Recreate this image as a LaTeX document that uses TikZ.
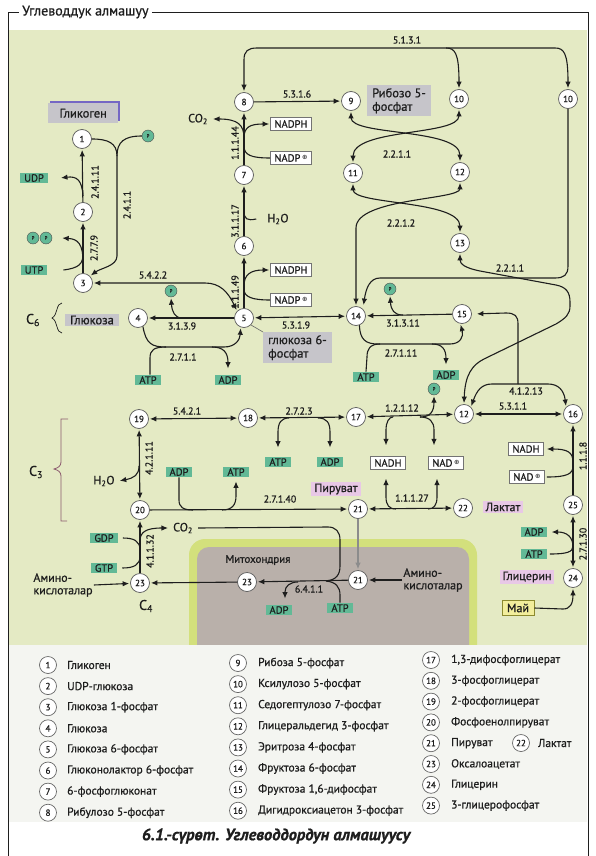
\documentclass[tikz,border=0pt]{standalone}
\usepackage{fontspec}
\setmainfont{PT Sans}[FakeBold=0.8]
\newfontfamily\symf{DejaVu Sans}
\usetikzlibrary{arrows.meta}
\definecolor{bggreen}{HTML}{E4EAC4}
\definecolor{cofgreen}{HTML}{62B996}
\definecolor{boxgray}{HTML}{C6C5CA}
\definecolor{pinkbox}{HTML}{E8C8E6}
\definecolor{mitoedge}{HTML}{D3E07C}
\definecolor{mitoin}{HTML}{B9B0AA}
\definecolor{maybox}{HTML}{F2EE9C}
\definecolor{mayedge}{HTML}{8C8A2E}
\definecolor{ink}{HTML}{1E1E1E}
\definecolor{bracec}{HTML}{8B5A6E}
\definecolor{purpedge}{HTML}{7567C4}
\definecolor{legbg}{HTML}{F4F5F1}
\newcommand\oplusmark{\,\raisebox{2.4pt}{\symf\fontsize{6.5}{6.5}\selectfont ⊕}}
\tikzset{
  mol/.style={circle, draw=black!65, fill=white, line width=0.7pt, minimum size=19pt, inner sep=0pt, font=\fontsize{9}{9}\selectfont},
  legmol/.style={circle, draw=black!60, fill=white, line width=0.7pt, minimum size=17pt, inner sep=0pt, font=\fontsize{9}{9}\selectfont},
  cof/.style={fill=cofgreen, inner xsep=4pt, inner ysep=1.5pt, font=\fontsize{10.5}{10.5}\selectfont},
  wbox/.style={draw=black!55, fill=white, line width=0.6pt, inner xsep=4pt, inner ysep=2.5pt, font=\fontsize{10.5}{10.5}\selectfont},
  gbox/.style={fill=boxgray, inner xsep=5pt, inner ysep=3pt, align=left, font=\fontsize{12.5}{13.5}\selectfont},
  pbox/.style={fill=pinkbox, inner xsep=3pt, inner ysep=1.5pt, font=\fontsize{12}{12}\selectfont},
  ecl/.style={inner sep=1pt, font=\fontsize{10}{10}\selectfont},
  txt/.style={inner sep=1pt, font=\fontsize{12}{12.5}\selectfont},
  pho/.style={circle, draw=black!70, fill=cofgreen, minimum size=12pt, inner sep=0pt, font=\fontsize{5}{5}\selectfont},
  ln/.style={draw=ink, line width=1.1pt},
  ar/.style={ln, ->, shorten >=1pt},
  arr/.style={ln, <->, shorten >=1pt, shorten <=1pt},
  leg/.style={anchor=west, inner sep=0pt, font=\fontsize{11.5}{12}\selectfont},
}
\begin{document}
\begin{tikzpicture}[x=1pt,y=-1pt, >={Latex[length=6.5pt,width=5.5pt]}, every node/.style={text=ink}]
\useasboundingbox (0,0) rectangle (595,856);
% page and panels
\fill[white] (0,0) rectangle (595,856);
\fill[bggreen] (9,30) rectangle (587,645);
\fill[mitoedge, rounded corners=16pt] (189,539) rectangle (477,670);
\fill[mitoin, rounded corners=12pt] (197,547) rectangle (469,670);
\fill[legbg] (9,645) rectangle (587,822);

% frame and title
\node[inner sep=3pt, anchor=west, font=\fontsize{14}{14}\selectfont] (title) at (19,12) {Углеводдук алмашуу};
\draw[ink, line width=0.9pt] (8,856) -- (8,12) -- (title.west);
\draw[ink, line width=0.9pt] (title.east) -- (588,12) -- (588,856);

% metabolites
\node[mol] (m1) at (82,139) {1};
\node[mol] (m2) at (83,212) {2};
\node[mol] (m3) at (83,283) {3};
\node[mol] (m4) at (138,318) {4};
\node[mol] (m5) at (244,318) {5};
\node[mol] (m6) at (244,246) {6};
\node[mol] (m7) at (244,175) {7};
\node[mol] (m8) at (244,102) {8};
\node[mol] (m9) at (351,101) {9};
\node[mol] (m10a) at (459,99) {10};
\node[mol] (m10b) at (568,99) {10};
\node[mol] (m11) at (353,173) {11};
\node[mol] (m12a) at (460,172) {12};
\node[mol] (m13) at (460,243) {13};
\node[mol] (m14) at (356,316) {14};
\node[mol] (m15) at (462,314) {15};
\node[mol] (m12b) at (464,414) {12};
\node[mol] (m16) at (573,414) {16};
\node[mol] (m17) at (356,417) {17};
\node[mol] (m18) at (248,418) {18};
\node[mol] (m19) at (139,419) {19};
\node[mol] (m20) at (140,510) {20};
\node[mol] (m21a) at (358,509) {21};
\node[mol] (m22) at (463,508) {22};
\node[mol] (m25) at (573,505) {25};
\node[mol] (m24) at (573,578) {24};
\node[mol] (m23a) at (140,583) {23};
\node[mol] (m23b) at (247,582) {23};
\node[mol] (m21b) at (358,580) {21};

% named boxes
\fill[purpedge] (49.8,101.2) rectangle (119.8,121);
\node[gbox, anchor=north west, minimum width=70pt, minimum height=20pt, align=center] (glycogen) at (48,103) {Гликоген};
\node[gbox, anchor=north west] (ribo) at (367,85) {Рибозо 5-\\фосфат};
\node[gbox, anchor=north west] (g6p) at (263,332) {глюкоза 6-\\фосфат};
\node[gbox, inner ysep=1.5pt] (gluc) at (92,320) {Глюкоза};
\node[pbox] (pyr) at (336,489) {Пируват};
\node[pbox] (lac) at (503,507) {Лактат};
\node[pbox] (glyc) at (527,577) {Глицерин};
\node[fill=maybox, draw=mayedge, line width=1pt, inner xsep=5pt, inner ysep=3pt, font=\fontsize{12}{12}\selectfont] (may) at (518,608) {Май};

% cofactors
\node[cof] (udp) at (34,178) {UDP};
\node[cof] (utp) at (34,270) {UTP};
\node[pho] (pp1) at (33,238) {P};
\node[pho] (pp2) at (46,238) {P};
\node[pho] (p1) at (148,136) {P};
\node[pho] (p2) at (171,291) {P};
\node[pho] (p3) at (390,289) {P};
\node[pho] (p4) at (434,389) {P};
\node[cof] (atp1) at (148,380) {ATP};
\node[cof] (adp1) at (228,380) {ADP};
\node[cof] (atp2) at (366,377) {ATP};
\node[cof] (adp2) at (446,375) {ADP};
\node[cof] (atp3) at (278,462) {ATP};
\node[cof] (adp3) at (330,462) {ADP};
\node[cof] (adp4) at (179,472) {ADP};
\node[cof] (atp4) at (236,472) {ATP};
\node[cof] (gdp) at (104,538) {GDP};
\node[cof] (gtp) at (104,568) {GTP};
\node[cof] (adp5) at (534,532) {ADP};
\node[cof] (atp5) at (534,554) {ATP};
\node[cof] (adp6) at (279,610) {ADP};
\node[cof] (atp6) at (340,608) {ATP};
\node[wbox] (nadph1) at (291,124) {NADPH};
\node[wbox] (nadp1) at (291,158) {NADP\oplusmark};
\node[wbox] (nadph2) at (291,270) {NADPH};
\node[wbox] (nadp2) at (291,300) {NADP\oplusmark};
\node[wbox] (nadh1) at (388,463) {NADH};
\node[wbox] (nad1) at (446,463) {NAD\oplusmark};
\node[wbox] (nadh2) at (526,449) {NADH};
\node[wbox] (nad2) at (527,477) {NAD\oplusmark};

% free text
\node[txt] (co2a) at (198,119) {CO\textsubscript{2}};
\node[txt] (h2oa) at (278,219) {H\textsubscript{2}O};
\node[txt] (h2ob) at (104,481) {H\textsubscript{2}O};
\node[txt] (co2b) at (183,528) {CO\textsubscript{2}};
\node[txt, align=left] (amin1) at (63,585) {Амино-\\кислоталар};
\node[txt, align=left] (amin2) at (433,580) {Амино-\\кислоталар};
\node[txt, font=\fontsize{11}{11}\selectfont] (mito) at (258,560) {Митохондрия};
\node[font=\fontsize{14}{14}\selectfont] (c6) at (33,320) {C\textsubscript{6}};
\node[font=\fontsize{14}{14}\selectfont] (c3) at (36,472) {C\textsubscript{3}};
\node[font=\fontsize{14}{14}\selectfont] (c4) at (146,606) {C\textsubscript{4}};

% braces
\draw[ink, line width=0.7pt] (62,303) .. controls (56,303) and (58,315) .. (52,318) .. controls (58,321) and (56,333) .. (62,333);
\draw[bracec, line width=0.8pt] (68,419) -- (61,419) -- (61,462) .. controls (61,466) and (58,468) .. (54,469) .. controls (58,470) and (61,472) .. (61,476) -- (61,521) -- (67,521);

% glycogen / UDP-glucose
\draw[ar] (m2) -- (m1);
\draw[ar] (83,196) .. controls (82,180) and (77,176) .. ([xshift=12pt]udp.east);
\draw[ar] (m3) -- (m2);
\draw[ar] (83,262) .. controls (83,244) and (78,239) .. ([xshift=9pt]pp2.east);
\draw[ln] ([xshift=16pt]utp.east) .. controls (79,268) and (83,264) .. (83,254);
\draw[ar] (m1.east) .. controls (108,139) and (117,143) .. (117,156) -- (117,256) .. controls (117,266) and (101,268) .. (m3.north east);
\draw[ln] (p1.west) .. controls (124,136) and (117,142) .. (117,156);
\draw[arr] (m3.east) -- (205,283) .. controls (220,283) and (228,292) .. (m5.north west);

% glucose / glucose 6-phosphate
\draw[ar] (m5) -- (m4);
\draw[ar] (182,318) .. controls (175,318) and (172,312) .. (p2.south);
\draw[ar] (m4.-60) .. controls (146,344) and (152,347) .. (166,347) -- (224,347) .. controls (235,347) and (240,340) .. (m5.-110);
\draw[ln] ([xshift=2pt]atp1.north) -- (150,358) .. controls (150,350) and (154,347) .. (166,347);
\draw[ar] (212,347) .. controls (223,347) and (228,352) .. ([yshift=5pt]adp1.north);
\draw[black!60, line width=0.6pt] (m5.-45) -- (g6p.north west);

% oxidative branch
\draw[ar] (m5) -- (m6);
\draw[ar] (244,286) .. controls (244,275) and (250,270) .. (nadph2.west);
\draw[ln] (nadp2.west) .. controls (252,300) and (244,297) .. (244,289);
\draw[ar] (m6) -- (m7);
\draw[ln] ([xshift=-10pt]h2oa.west) .. controls (247,221) and (244,219) .. (244,211);
\draw[ar] (m7) -- (m8);
\draw[ar] (244,138) .. controls (244,125) and (238,119) .. ([xshift=3pt]co2a.east);
\draw[ar] (244,138) .. controls (244,127) and (250,124) .. (nadph1.west);
\draw[ln] (nadp1.west) .. controls (251,158) and (244,155) .. (244,146);
\draw[ar] (m8) -- (m9);

% non-oxidative branch
\draw[arr] (m8.north) -- (244,60) .. controls (244,51) and (248,48) .. (257,48) -- (446,48) .. controls (455,48) and (459,53) .. (m10a.north);
\draw[ar] (446,48) -- (555,48) .. controls (564,48) and (568,53) .. (m10b.north);
\draw[arr] (m9.south) .. controls (351,136) and (460,128) .. (m12a.north);
\draw[arr] (m10a.south) .. controls (459,136) and (353,128) .. (m11.north);
\draw[arr] (m11.south) .. controls (353,205) and (460,200) .. (m13.north);
\draw[arr] (m12a.south) .. controls (460,200) and (356,198) .. (356,228) -- (m14.north);
\draw[ar, shorten >=4pt] (m10b.south) -- (568,266) .. controls (568,275) and (564,278) .. (555,278) -- (380,278) .. controls (370,278) and (366,288) .. (m14.north east);
\draw[arr] (m13.south) .. controls (460,264) and (465,268) .. (480,271) -- (556,285) .. controls (566,287) and (570,292) .. (570,302) -- (570,306) .. controls (570,314) and (566,318) .. (556,324) -- (484,359) .. controls (472,365) and (465,375) .. (m12b.north);

% fructose phosphates
\draw[arr] (m5) -- (m14);
\draw[ar] (m15) -- (m14);
\draw[ar] (403,315) .. controls (394,315) and (391,310) .. (p3.south);
\draw[ar] (m14.-70) .. controls (360,340) and (366,344) .. (378,344) -- (450,344) .. controls (460,344) and (464,337) .. (m15.-100);
\draw[ln] (atp2.north) -- (367,357) .. controls (367,349) and (370,344) .. (380,344);
\draw[ar] (432,344) .. controls (442,344) and (446,349) .. ([yshift=4pt]adp2.north);

% aldolase and triose phosphates
\coordinate (ald) at (518,384);
\draw[ar, shorten >=5pt] (ald) -- (518,324) .. controls (518,316) and (515,313) .. (506,313) -- (m15.east);
\draw[ar] (ald) -- (492,384) .. controls (482,384) and (477,390) .. (m12b.north east);
\draw[ar] (ald) -- (548,384) .. controls (558,384) and (564,390) .. (m16.north west);
\draw[arr] (m12b) -- (m16);
\draw[ar] (m25) -- (m16);
\draw[ar] (573,462) .. controls (573,452) and (567,449) .. ([xshift=2pt]nadh2.east);
\draw[ln] ([xshift=2pt]nad2.east) .. controls (567,477) and (573,474) .. (573,466);
\draw[arr] (m24) -- (m25);
\draw[ar] (573,547) .. controls (573,537) and (567,532) .. ([xshift=3pt]adp5.east);
\draw[ln] ([xshift=3pt]atp5.east) .. controls (567,554) and (573,552) .. (573,546);
\draw[ar] (may.east) -- (563,609) .. controls (570,609) and (573,604) .. (m24.south);

% lower glycolysis
\draw[arr] (m19) -- (m18);
\draw[arr] (m18) -- (m17);
\draw[ar] (289,418) .. controls (281,418) and (278,423) .. (278,432) -- ([yshift=8pt]atp3.north);
\draw[ar] (318,418) .. controls (327,418) and (330,423) .. (330,432) -- ([yshift=8pt]adp3.north);
\draw[arr] (m12b) -- (m17);
\draw[ar] (393,417) .. controls (389,417) and (386,422) .. (386,430) -- ([xshift=-2pt,yshift=10pt]nadh1.north);
\draw[ar] (420,417) .. controls (430,417) and (434,412) .. (p4.south);
\draw[ar] (420,417) .. controls (430,417) and (434,422) .. (434,430) -- ([xshift=-12pt,yshift=10pt]nad1.north);
\draw[arr] (m19) -- (m20);
\draw[ar] (139,466) .. controls (139,475) and (134,478) .. ([xshift=3pt]h2ob.east);
\draw[ar] (m20) -- (m21a);
\draw[ln] (adp4.south) -- (179,500) .. controls (179,507) and (183,510) .. (193,510);
\draw[ar] (222,510) .. controls (232,510) and (236,505) .. (236,496) -- ([yshift=-3pt]atp4.south);
\draw[arr] (m21a) -- (m22);
\draw[ar] (396,509) .. controls (389,509) and (386,505) .. (386,497) -- ([xshift=-2pt,yshift=-8pt]nadh1.south);
\draw[ar] (428,509) .. controls (434,509) and (437,505) .. (437,497) -- ([xshift=-9pt,yshift=-8pt]nad1.south);
\draw[ar, draw=black!45] (m21a) -- (m21b);

% oxaloacetate
\draw[ar] (m23a) -- (m20);
\draw[ar] (140,541) .. controls (140,532) and (146,528) .. ([xshift=-3pt]co2b.west);
\draw[ln] ([xshift=5pt]gdp.east) .. controls (134,538) and (140,541) .. (140,550);
\draw[ln] ([xshift=5pt]gtp.east) .. controls (134,568) and (140,565) .. (140,556);
\draw[ln] ([xshift=4pt]co2b.east) -- (328,527) .. controls (336,527) and (340,532) .. (340,540) -- (340,566) .. controls (340,575) and (336,580) .. (326,581);
\draw[ln] (atp6.north) -- (340,595) .. controls (340,587) and (336,582) .. (326,581);
\draw[ar] (m21b) -- (m23b);
\draw[ar] (298,582) .. controls (290,582) and (285,586) .. (285,592) -- ([xshift=6pt,yshift=5pt]adp6.north);
\draw[ar] (m23b) -- (m23a);
\draw[ar] (amin1.east) -- (m23a);
\draw[ar] (amin2.west) -- (m21b);

% enzyme numbers
\node[ecl, rotate=90] at (95,182) {2.4.1.11};
\node[ecl, rotate=90] at (127,205) {2.4.1.1};
\node[ecl, rotate=90] at (94,248) {2.7.7.9};
\node[ecl] at (153,275) {5.4.2.2};
\node[ecl] at (182,326) {3.1.3.9};
\node[ecl] at (183,357) {2.7.1.1};
\node[ecl, rotate=90] at (235,292) {1.1.1.49};
\node[ecl, rotate=90] at (235,221) {3.1.1.17};
\node[ecl, rotate=90] at (235,143) {1.1.1.44};
\node[ecl] at (297,94) {5.3.1.6};
\node[ecl] at (407,40) {5.1.3.1};
\node[ecl] at (397,154) {2.2.1.1};
\node[ecl] at (401,223) {2.2.1.2};
\node[ecl] at (510,268) {2.2.1.1};
\node[ecl] at (296,325) {5.3.1.9};
\node[ecl] at (403,323) {3.1.3.11};
\node[ecl] at (401,353) {2.7.1.11};
\node[ecl] at (526,391) {4.1.2.13};
\node[ecl] at (513,406) {5.3.1.1};
\node[ecl] at (402,408) {1.2.1.12};
\node[ecl] at (187,411) {5.4.2.1};
\node[ecl] at (299,411) {2.7.2.3};
\node[ecl, rotate=90] at (149,458) {4.2.1.11};
\node[ecl] at (280,499) {2.7.1.40};
\node[ecl] at (412,498) {1.1.1.27};
\node[ecl, rotate=90] at (150,551) {4.1.1.32};
\node[ecl] at (309,589) {6.4.1.1};
\node[ecl, rotate=90] at (583,456) {1.1.1.8};
\node[ecl, rotate=90] at (583,544) {2.7.1.30};

% key
\foreach \n/\t [count=\i from 0] in {1/Гликоген, 2/UDP-глюкоза, 3/Глюкоза 1-фосфат, 4/Глюкоза, 5/Глюкоза 6-фосфат, 6/Глюконолактор 6-фосфат, 7/6-фосфоглюконат, 8/Рибулозо 5-фосфат}{
  \node[legmol] (ka\n) at (48,665+21.1*\i) {\n};
  \node[leg] at (67,665+21.1*\i) {\t};
}
\foreach \n/\t [count=\i from 0] in {9/Рибоза 5-фосфат, 10/Ксилулозо 5-фосфат, 11/Седогептулозо 7-фосфат, 12/Глицеральдегид 3-фосфат, 13/Эритроза 4-фосфат, 14/Фруктоза 6-фосфат, 15/{Фруктоза 1,6-дифосфат}, 16/Дигидроксиацетон 3-фосфат}{
  \node[legmol] (kb\n) at (238,663+21.1*\i) {\n};
  \node[leg] at (258,663+21.1*\i) {\t};
}
\foreach \n/\t [count=\i from 0] in {17/{1,3-дифосфоглицерат}, 18/3-фосфоглицерат, 19/2-фосфоглицерат, 20/Фосфоенолпируват, 21/Пируват, 23/Оксалоацетат, 24/Глицерин, 25/3-глицерофосфат}{
  \node[legmol] (kc\n) at (431,660+20.8*\i) {\n};
  \node[leg] at (451,660+20.8*\i) {\t};
}
\node[legmol] (kc22) at (521,743) {22};
\node[leg] at (538,743) {Лактат};

% caption
\node[font=\fontsize{16.5}{17}\selectfont\bfseries\itshape] (cap) at (276,836) {6.1.-сүрөт. Углеводдордун алмашуусу};
\end{tikzpicture}
\end{document}
